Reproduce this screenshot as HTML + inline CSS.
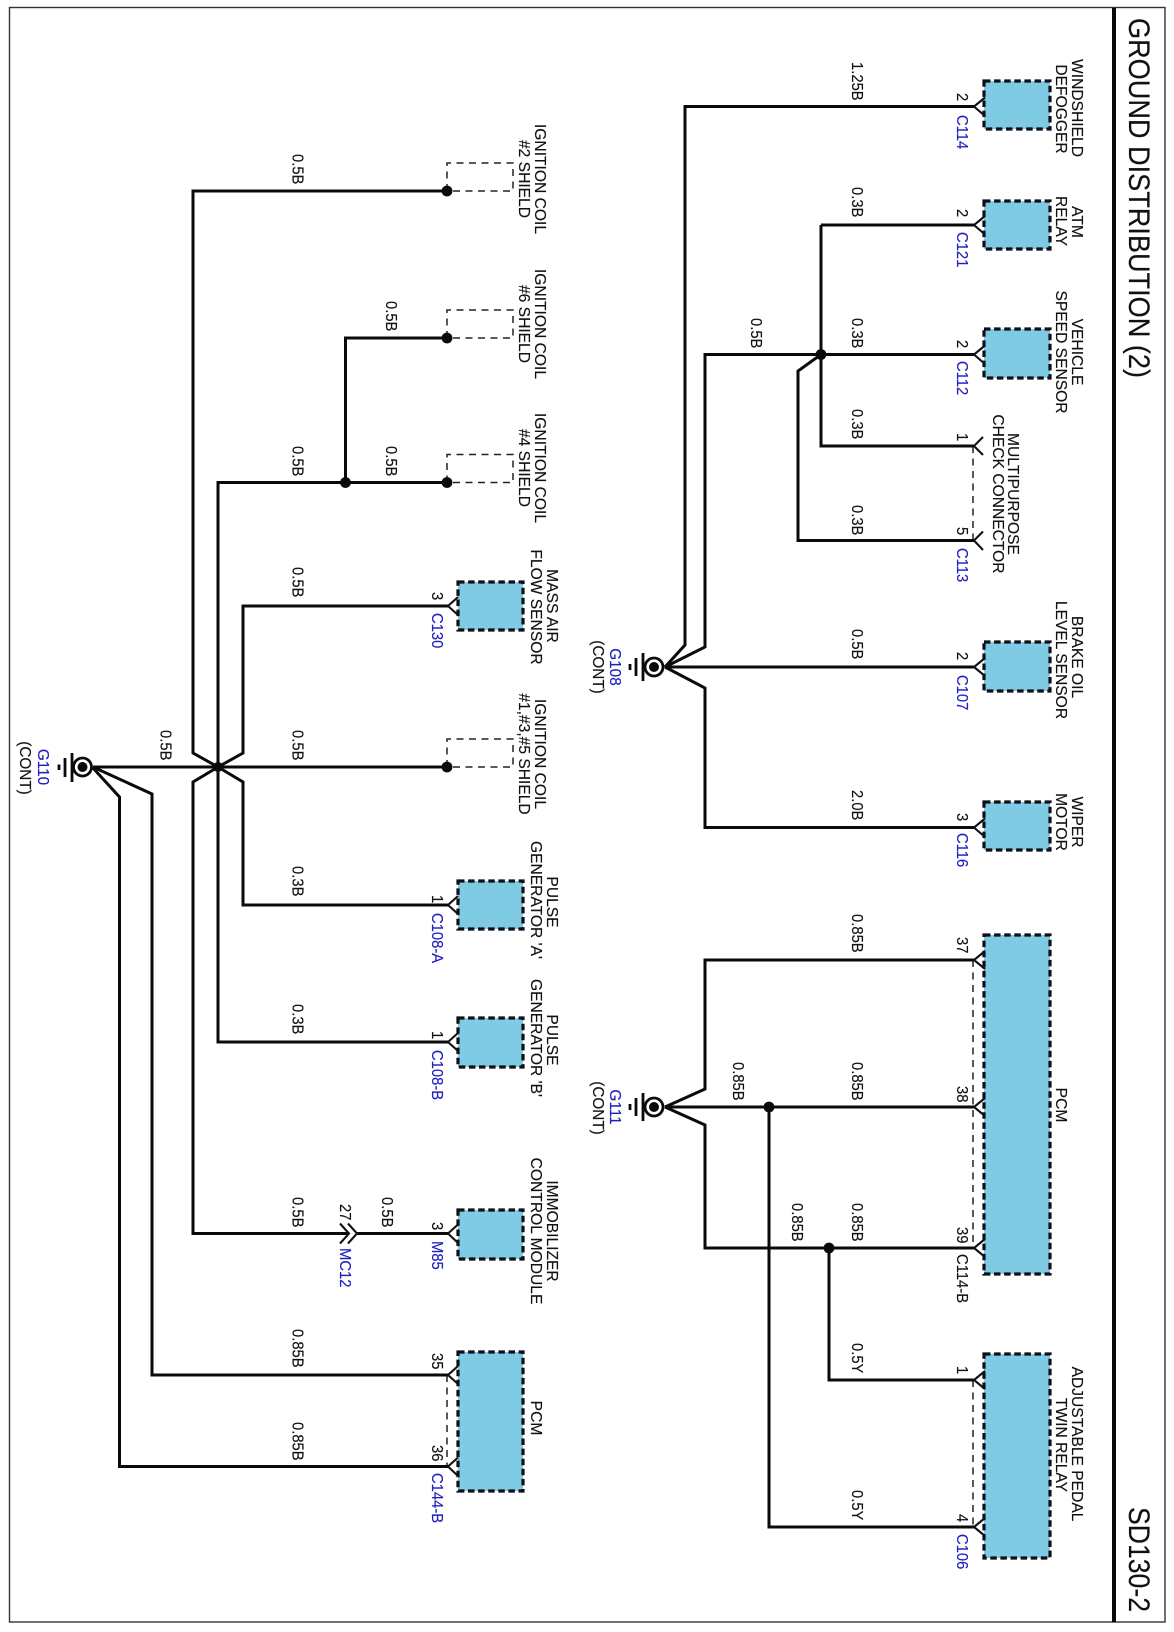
<!DOCTYPE html>
<html><head><meta charset="utf-8"><style>
html,body{margin:0;padding:0;background:#fff}
svg{display:block}
text{font-family:"Liberation Sans",sans-serif;fill:#111;stroke:#111;stroke-width:.15}
.w,.c,.p{font-size:16px;transform-box:fill-box;transform-origin:0 50%;transform:scaleX(.925)}
.c{fill:#2020c0;stroke:#2020c0}
.l{font-size:15.6px;text-anchor:middle}
.g{font-size:15.3px;text-anchor:middle}
.b{fill:#2020c0;stroke:#2020c0}
.t{font-size:30px}
.wire{fill:none;stroke:#0a0a0a;stroke-width:3;stroke-linejoin:miter}
.box{fill:#7ecbe3;stroke:#0f0f1a;stroke-width:3.2;stroke-dasharray:6.5 3.6}
.conn{fill:none;stroke:#111;stroke-width:2.1}
.dash{fill:none;stroke:#222;stroke-width:1.5;stroke-dasharray:7 5.5}
.gl{stroke:#0a0a0a;stroke-width:2.8}
</style></head><body>
<svg width="1174" height="1632" viewBox="0 0 1174 1632" xmlns="http://www.w3.org/2000/svg">
<rect width="1174" height="1632" fill="#fff"/>
<rect x="9.5" y="7.5" width="1155.5" height="1614.5" fill="none" stroke="#333" stroke-width="1.4"/>
<rect x="1112" y="8" width="4" height="1614" fill="#0a0a0a"/>

<!-- boxes -->
<rect class="box" x="984" y="81" width="66" height="48"/>
<rect class="box" x="984" y="201" width="66" height="48"/>
<rect class="box" x="984" y="329" width="66" height="49"/>
<rect class="box" x="984" y="642" width="66" height="49"/>
<rect class="box" x="984" y="802" width="66" height="48"/>
<rect class="box" x="984" y="935" width="66" height="339"/>
<rect class="box" x="984" y="1354" width="66" height="204"/>
<rect class="box" x="458" y="582" width="65" height="48"/>
<rect class="box" x="458" y="881" width="65" height="48"/>
<rect class="box" x="458" y="1018" width="65" height="49"/>
<rect class="box" x="458" y="1210" width="65" height="49"/>
<rect class="box" x="458" y="1352" width="65" height="139"/>

<!-- dashed -->
<path class="dash" d="M973 446V541M973 960V1248M973 1380V1527M447 1375V1466"/>
<path class="dash" d="M447 191V163H513V191H447M447 338V310H513V338H447M447 482.500V454.500H513V482.500H447M447 767V739H513V767H447"/>

<!-- wires right -->
<path class="wire" d="M665 667L685 645V106.500H974"/>
<path class="wire" d="M665 667L705 647V354.500H974"/>
<path class="wire" d="M821 225H974M821 225V446H974"/>
<path class="wire" d="M821 354.500L798 371V540.500H974"/>
<path class="wire" d="M665 667H974"/>
<path class="wire" d="M665 667L705 688V827.500H974"/>
<path class="wire" d="M665 1107L705 1089V960H974"/>
<path class="wire" d="M665 1107H974"/>
<path class="wire" d="M665 1107L705 1125V1248H974"/>
<path class="wire" d="M769 1107V1527H974"/>
<path class="wire" d="M829 1248V1380H974"/>

<!-- wires left -->
<path class="wire" d="M93 767H447"/>
<path class="wire" d="M218 767L193 753V191H447"/>
<path class="wire" d="M218 767V482.500H447"/>
<path class="wire" d="M345.500 482.500V338H447"/>
<path class="wire" d="M218 767L243 753V606H448"/>
<path class="wire" d="M218 767L243 782V905H448"/>
<path class="wire" d="M218 767V1042H448"/>
<path class="wire" d="M218 767L193 782V1233.500H349"/>
<path class="wire" d="M357 1233.500H448"/>
<path class="wire" d="M93 767L152 794V1375H448"/>
<path class="wire" d="M93 768L119.500 797V1466.500H448"/>

<!-- connectors -->
<path class="conn" d="M985 97.500L974 106.500L985 116M985 216L974 225L985 234.500M985 345.500L974 354.500L985 364M983 437L974 446L983 455M983 531.500L974 540.500L983 550M985 658L974 667L985 676M985 818.500L974 827.500L985 837M985 951L974 960L985 969M985 1098L974 1107L985 1116M985 1239L974 1248L985 1257M985 1371L974 1380L985 1389M985 1518L974 1527L985 1536"/>
<path class="conn" d="M458 597L448 606L458 615M458 896L448 905L458 914M458 1033L448 1042L458 1051M458 1224.500L448 1233.500L458 1243M458 1366L448 1375L458 1384M458 1457.500L448 1466.500L458 1476"/>
<path class="conn" d="M340 1223.500L349 1233.500L340 1243.500M348 1223.500L357 1233.500L348 1243.500"/>

<!-- dots -->
<g fill="#0a0a0a">
<circle cx="821" cy="354.500" r="5.400"/><circle cx="769" cy="1107" r="5.400"/><circle cx="829" cy="1248" r="5.400"/>
<circle cx="447" cy="191" r="5.400"/><circle cx="447" cy="338" r="5.400"/><circle cx="447" cy="482.500" r="5.400"/><circle cx="447" cy="767" r="5.400"/>
<circle cx="345.500" cy="482.500" r="5.400"/><circle cx="218" cy="767" r="5"/>
</g>

<!-- grounds -->
<g fill="none" stroke="#0a0a0a" stroke-width="2.800">
<circle cx="654" cy="667" r="9"/><circle cx="654" cy="1107" r="9"/><circle cx="82.500" cy="767" r="9"/>
</g>
<g fill="#0a0a0a"><circle cx="654" cy="667" r="5"/><circle cx="654" cy="1107" r="5"/><circle cx="82.500" cy="767" r="5"/></g>
<path class="gl" d="M643 653V681M636 658V676M630 664V670M643 1093V1121M636 1098V1116M630 1104V1110M72 753V782M65 758V777M59 764.500V770"/>

<g transform="rotate(90)">
<!-- titles -->
<text class="t" x="18" y="-1129" textLength="360" lengthAdjust="spacingAndGlyphs">GROUND DISTRIBUTION (2)</text>
<text class="t" x="1507" y="-1129" textLength="105" lengthAdjust="spacingAndGlyphs">SD130-2</text>

<!-- component labels right -->
<text class="l" x="108" y="-1072">WINDSHIELD</text><text class="l" x="109" y="-1056">DEFOGGER</text>
<text class="l" x="222" y="-1072">ATM</text><text class="l" x="221" y="-1056">RELAY</text>
<text class="l" x="352" y="-1072">VEHICLE</text><text class="l" x="352" y="-1056">SPEED SENSOR</text>
<text class="l" x="494" y="-1008">MULTIPURPOSE</text><text class="l" x="494" y="-993">CHECK CONNECTOR</text>
<text class="l" x="657" y="-1072">BRAKE OIL</text><text class="l" x="660" y="-1056">LEVEL SENSOR</text>
<text class="l" x="822" y="-1072">WIPER</text><text class="l" x="822" y="-1056">MOTOR</text>
<text class="l" x="1105" y="-1056">PCM</text>
<text class="l" x="1444" y="-1072">ADJUSTABLE PEDAL</text><text class="l" x="1445" y="-1056">TWIN RELAY</text>

<!-- component labels left -->
<text class="l" x="179" y="-535">IGNITION COIL</text><text class="l" x="179" y="-519">#2 SHIELD</text>
<text class="l" x="324" y="-535">IGNITION COIL</text><text class="l" x="324" y="-519">#6 SHIELD</text>
<text class="l" x="468" y="-535">IGNITION COIL</text><text class="l" x="468" y="-519">#4 SHIELD</text>
<text class="l" x="606" y="-547">MASS AIR</text><text class="l" x="607" y="-531">FLOW SENSOR</text>
<text class="l" x="754" y="-535">IGNITION COIL</text><text class="l" x="754" y="-519">#1,#3,#5 SHIELD</text>
<text class="l" x="902" y="-547">PULSE</text><text class="l" x="900" y="-531">GENERATOR 'A'</text>
<text class="l" x="1040" y="-547">PULSE</text><text class="l" x="1038" y="-531">GENERATOR 'B'</text>
<text class="l" x="1231" y="-547">IMMOBILIZER</text><text class="l" x="1231" y="-531">CONTROL MODULE</text>
<text class="l" x="1418" y="-531">PCM</text>

<!-- wire labels right -->
<text class="w" x="62" y="-852">1.25B</text>
<text class="w" x="187" y="-852">0.3B</text>
<text class="w" x="318" y="-852">0.3B</text>
<text class="w" x="318" y="-751">0.5B</text>
<text class="w" x="409" y="-852">0.3B</text>
<text class="w" x="505" y="-852">0.3B</text>
<text class="w" x="629" y="-852">0.5B</text>
<text class="w" x="790" y="-852">2.0B</text>
<text class="w" x="914" y="-852">0.85B</text>
<text class="w" x="1062" y="-852">0.85B</text>
<text class="w" x="1062" y="-733">0.85B</text>
<text class="w" x="1203" y="-852">0.85B</text>
<text class="w" x="1203" y="-792">0.85B</text>
<text class="w" x="1343" y="-852">0.5Y</text>
<text class="w" x="1490" y="-852">0.5Y</text>

<!-- wire labels left -->
<text class="w" x="154" y="-292.500">0.5B</text>
<text class="w" x="301" y="-386">0.5B</text>
<text class="w" x="446" y="-292.500">0.5B</text>
<text class="w" x="446" y="-386">0.5B</text>
<text class="w" x="567" y="-292.500">0.5B</text>
<text class="w" x="730" y="-292.500">0.5B</text>
<text class="w" x="730" y="-160.500">0.5B</text>
<text class="w" x="866" y="-292.500">0.3B</text>
<text class="w" x="1004" y="-292.500">0.3B</text>
<text class="w" x="1197" y="-292.500">0.5B</text>
<text class="w" x="1197" y="-382">0.5B</text>
<text class="w" x="1329" y="-292.500">0.85B</text>
<text class="w" x="1422" y="-292.500">0.85B</text>

<!-- pins right -->
<text class="p" x="93" y="-957">2</text><text class="c" x="115" y="-957">C114</text>
<text class="p" x="209" y="-957">2</text><text class="c" x="232" y="-957">C121</text>
<text class="p" x="340" y="-957">2</text><text class="c" x="361" y="-957">C112</text>
<text class="p" x="433" y="-957">1</text>
<text class="p" x="527" y="-957">5</text><text class="c" x="548" y="-957">C113</text>
<text class="p" x="652" y="-957">2</text><text class="c" x="675" y="-957">C107</text>
<text class="p" x="813" y="-957">3</text><text class="c" x="833" y="-957">C116</text>
<text class="p" x="937" y="-957">37</text>
<text class="p" x="1086" y="-957">38</text>
<text class="p" x="1227" y="-957">39</text><text class="p" x="1254" y="-957">C114-B</text>
<text class="p" x="1366" y="-957">1</text>
<text class="p" x="1514" y="-957">4</text><text class="c" x="1534" y="-957">C106</text>

<!-- pins left -->
<text class="p" x="592" y="-432">3</text><text class="c" x="613" y="-432">C130</text>
<text class="p" x="895" y="-432">1</text><text class="c" x="913" y="-432">C108-A</text>
<text class="p" x="1031" y="-432">1</text><text class="c" x="1050" y="-432">C108-B</text>
<text class="p" x="1222" y="-432">3</text><text class="c" x="1241" y="-432">M85</text>
<text class="p" x="1204" y="-340">27</text><text class="c" x="1248" y="-340">MC12</text>
<text class="p" x="1353" y="-432">35</text>
<text class="p" x="1445" y="-432">36</text><text class="c" x="1473" y="-432">C144-B</text>

<!-- ground labels -->
<text class="g b" x="667" y="-610">G108</text><text class="g" x="667" y="-593">(CONT)</text>
<text class="g b" x="1107" y="-610">G111</text><text class="g" x="1108" y="-593">(CONT)</text>
<text class="g b" x="767" y="-38">G110</text><text class="g" x="768" y="-20">(CONT)</text>
</g>
</svg>
</body></html>
